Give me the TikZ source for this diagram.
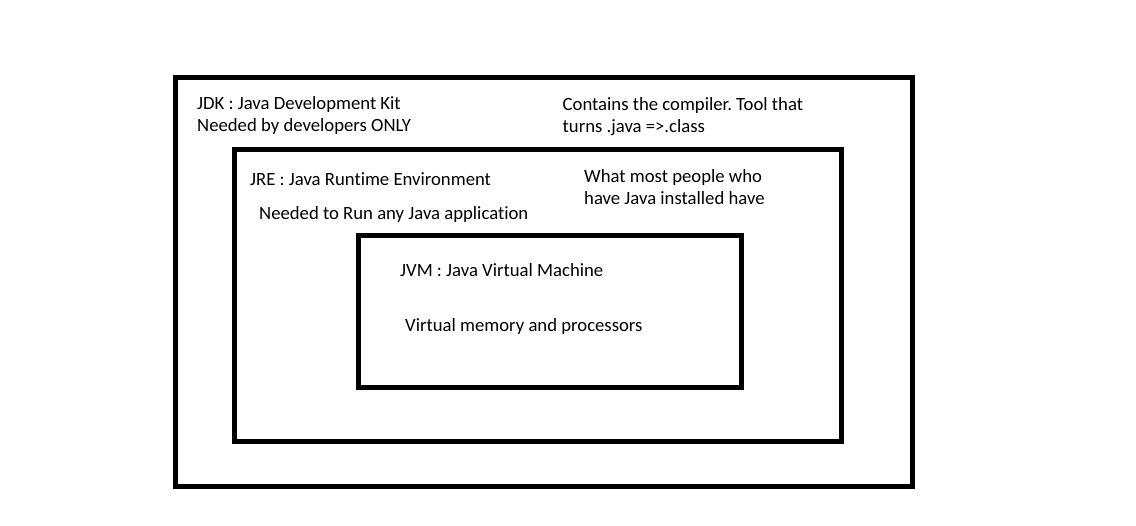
\documentclass[tikz,border=0pt]{standalone}
\usepackage{fontspec}
\setmainfont{Carlito}[Ligatures=CommonOff]
\usetikzlibrary{positioning}
\frenchspacing

\begin{document}
\begin{tikzpicture}[x=1pt,y=-1pt,
                    layer/.style={draw, line width=5pt},
                    note/.style={anchor=base west, inner sep=0pt,
                                 font=\fontsize{18.7}{22}\selectfont}]
                    \useasboundingbox (0,0) rectangle (1136,526);
                    \foreach \Left/\Top/\Right/\Bottom in {%
                        175.5/77.5/912.5/486.5,
                        234/150/841.5/441.5,
                        358.5/235.5/741/387.5%
                        }
                        \draw[layer] (\Left,\Top) rectangle (\Right,\Bottom);
                    \foreach \Name/\X/\Y/\Text in {%
                        jdk/197/110/{JDK : Java Development Kit},
                        jdkuse/197/131.5/{Needed by developers ONLY},
                        javac/562.5/111/{Contains the compiler. Tool that},
                        javacuse/562.5/132.5/{turns .java =>.class},
                        jre/250/185.3/{JRE : Java Runtime Environment},
                        jreuse/259/219.3/{Needed to Run any Java application},
                        users/584/182.7/{What most people who},
                        userstwo/584/205/{have Java installed have},
                        jvm/400/276.7/{JVM : Java Virtual Machine},
                        jvmuse/405/332/{Virtual memory and processors}%
                        }
                        \node (\Name) [note] at (\X,\Y) {\Text};
                \end{tikzpicture}
\end{document}
